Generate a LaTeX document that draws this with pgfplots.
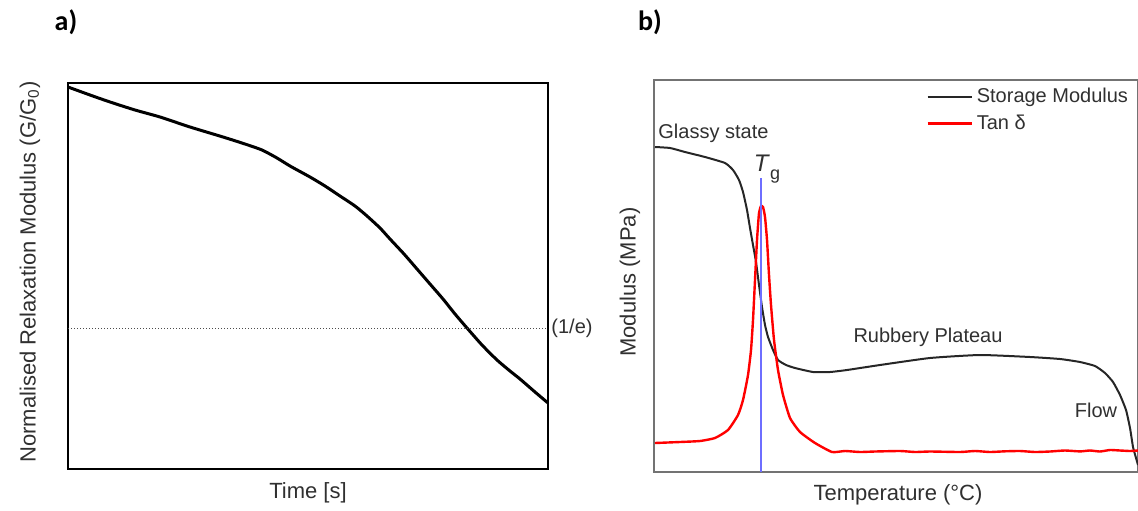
\documentclass[border=0pt]{standalone}
\usepackage{pgfplots}
\pgfplotsset{compat=1.18}
\usepackage{fontspec}
\setmainfont{Liberation Sans}
\newfontfamily\calibri{Carlito}
\definecolor{txt}{HTML}{303030}
\definecolor{tgblue}{RGB}{110,110,255}
\begin{document}
\begin{tikzpicture}
\useasboundingbox (0,0) rectangle (569pt,255pt);
% ---------- panel a ----------
\begin{axis}[
  at={(34pt,20.5pt)}, anchor=south west, scale only axis,
  width=240pt, height=193pt,
  xmin=68, xmax=548, ymin=41, ymax=427,
  xtick=\empty, ytick=\empty,
  axis line style={black, line width=1pt},
  clip=false,
]
\addplot[black, line width=1.5pt, smooth, tension=0.4] coordinates {
(68,423) (90,415) (110,408) (135,400) (160,393) (190,383) (223,373) (245,366)
(262,360) (277,352) (290,344) (310,333) (325,324) (340,314) (355,304) (367,294)
(380,282) (390,271) (404,256) (417,241) (430,226) (443,211) (455,196) (467,182)
(482,165) (497,150) (510,139) (520,131) (535,118) (548,107)};
\addplot[black!70, densely dotted, line width=0.5pt] coordinates {(68,182) (548,182)};
\node[anchor=west, text=txt, font=\fontsize{10}{12}\selectfont, inner sep=1pt] at (axis cs:549,182) {(1/e)};
\node[text=txt, font=\fontsize{11}{13}\selectfont] at (axis cs:308,17) {Time [s]};
\node[text=txt, rotate=90, font=\fontsize{11}{13}\selectfont] at (axis cs:30,238) {Normalised Relaxation Modulus (G/G\textsubscript{0})};
\node[font=\calibri\bfseries\fontsize{14}{16}\selectfont] at (axis cs:66,488) {a)};
\end{axis}
% ---------- panel b ----------
\begin{axis}[
  at={(327pt,19pt)}, anchor=south west, scale only axis,
  width=242pt, height=196pt,
  xmin=654, xmax=1138, ymin=38, ymax=430,
  xtick=\empty, ytick=\empty,
  axis line style={black!55, line width=0.7pt},
  clip=false,
  legend style={at={(axis cs:926,426)}, anchor=north west, draw=none, fill=none,
    font=\fontsize{10}{12}\selectfont, text=txt, row sep=0.5pt, inner sep=0pt},
  legend cell align=left,
  legend image code/.code={\draw[#1] (0pt,0pt) -- (22pt,0pt);},
]
\addplot[black!85, line width=1pt, smooth, tension=0.3] coordinates {
(655,363) (670,362) (685,358) (705,353) (725,347) (733,340) (739,330) (743,318)
(747,300) (750,282) (753,265) (756,248) (759,225) (762,203) (765,185) (768,173)
(773,160) (778,150) (786,145) (795,142) (813,138) (830,138) (847,140) (880,145)
(930,152) (980,155) (1030,153) (1060,151) (1080,148) (1095,144) (1105,137)
(1113,128) (1120,115) (1126,100) (1130,82) (1133,63) (1136,52) (1138,45)};
\addlegendentry{Storage Modulus}
\addplot[red, line width=1.2pt, smooth, tension=0.3] coordinates {
(655,67) (680,68) (700,69) (715,72) (728,80) (738,95) (743,110) (748,135)
(751,160) (753,190) (755,230) (757,270) (759,297) (761,304) (763,303) (765,293)
(767,270) (769,235) (771,205) (774,170) (778,140) (783,115) (790,92) (800,78)
(815,67) (832,58) (845,59) (860,58) (875,58.5) (900,59) (915,58) (930,58.5)
(960,58) (975,59) (990,58) (1005,58.7) (1020,59) (1035,58) (1050,58.5) (1065,59.5)
(1080,58.6) (1090,59.5) (1100,58.5) (1110,60) (1120,59.5) (1130,59) (1138,59.5)};
\addlegendentry{Tan δ}
\addplot[tgblue, line width=0.6pt, forget plot] coordinates {(761,38) (761,332)};
\node[text=txt, font=\fontsize{12}{14}\selectfont] at (axis cs:767,341) {\textit{T}\raisebox{-0.6ex}{\fontsize{9}{10}\selectfont g}};
\node[anchor=west, text=txt, font=\fontsize{10}{12}\selectfont, inner sep=0pt] at (axis cs:658,377) {Glassy state};
\node[text=txt, font=\fontsize{10}{12}\selectfont] at (axis cs:928,173) {Rubbery Plateau};
\node[text=txt, font=\fontsize{10}{12}\selectfont] at (axis cs:1096,100) {Flow};
\node[text=txt, font=\fontsize{11}{13}\selectfont] at (axis cs:898,15) {Temperature (°C)};
\node[text=txt, rotate=90, font=\fontsize{11}{13}\selectfont] at (axis cs:630,228) {Modulus (MPa)};
\node[font=\calibri\bfseries\fontsize{14}{16}\selectfont] at (axis cs:650,488) {b)};
\end{axis}
\end{tikzpicture}
\end{document}
